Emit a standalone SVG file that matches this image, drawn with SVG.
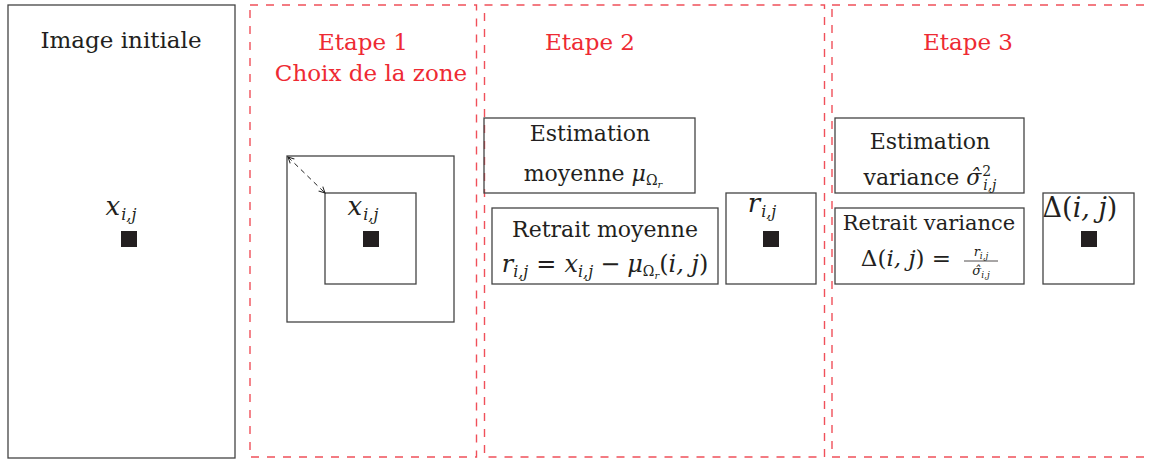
<svg xmlns="http://www.w3.org/2000/svg" width="1152" height="460" viewBox="0 0 1152 460" font-family="'DejaVu Serif', 'Liberation Serif', serif">
<style>
.bg{fill:#fff}
.box{fill:none;stroke:#444;stroke-width:1.3}
.stage{fill:none;stroke:#f0505a;stroke-width:1.4;stroke-dasharray:8 8}
.t{font-family:"DejaVu Serif","Liberation Serif",serif;font-size:22px;fill:#231f20;text-anchor:middle}
.r{fill:#ee2a33;font-size:23px}
.m{font-style:italic}
.s{font-size:14px}
.sb{font-size:16px}
.ss{font-size:10px}
.px{fill:#231f20}
.conn{fill:none;stroke:#222;stroke-width:1;stroke-dasharray:5 4}
</style>
<defs>
<marker id="ah" markerWidth="8" markerHeight="8" refX="7" refY="4" orient="auto-start-reverse" markerUnits="userSpaceOnUse">
<path d="M1,1 L7,4 L1,7" fill="none" stroke="#222" stroke-width="1"/>
</marker>
</defs>
<rect class="bg" x="0" y="0" width="1152" height="460"/>

<g id="image-initiale">
<rect class="box" x="8" y="5" width="227" height="453"/>
<text class="t" x="121" y="48" style="font-size:23px">Image initiale</text>
<text class="t" x="121" y="215" style="font-size:26px"><tspan class="m">x</tspan><tspan class="sb m" dx="1" dy="5">i,j</tspan></text>
<rect class="px" x="121" y="231" width="16" height="16"/>
</g>

<g id="etape1">
<rect class="stage" x="250" y="5" width="226.5" height="452"/>
<text class="t r" x="363" y="50">Etape 1</text>
<text class="t r" x="371" y="81">Choix de la zone</text>
<rect class="box" x="287" y="156" width="167" height="166"/>
<rect class="box" x="325" y="193" width="91" height="91"/>
<text class="t" x="363" y="215" style="font-size:26px"><tspan class="m">x</tspan><tspan class="sb m" dx="1" dy="5">i,j</tspan></text>
<rect class="px" x="363" y="231" width="16" height="16"/>
</g>

<g id="etape2">
<rect class="stage" x="484.5" y="5" width="340" height="452"/>
<text class="t r" x="590" y="50">Etape 2</text>
<g id="estimation-moyenne">
<rect class="box" x="484" y="118" width="211" height="75"/>
<text class="t" x="590" y="141">Estimation</text>
<text class="t" x="593" y="181">moyenne <tspan class="m">μ</tspan><tspan class="s" dy="4">Ω</tspan><tspan class="ss m" dy="3">r</tspan></text>
</g>
<g id="retrait-moyenne">
<rect class="box" x="492" y="208" width="226" height="76"/>
<text class="t" x="605" y="237">Retrait moyenne</text>
<text class="t" x="605" y="272" style="font-size:24px"><tspan class="m">r</tspan><tspan class="sb m" dy="5">i,j</tspan><tspan dy="-5" dx="8">=</tspan><tspan class="m" dx="8">x</tspan><tspan class="sb m" dy="5">i,j</tspan><tspan dy="-5" dx="7">−</tspan><tspan class="m" dx="7">μ</tspan><tspan class="s" dy="4">Ω</tspan><tspan class="ss m" dy="3">r</tspan><tspan dy="-7">(</tspan><tspan class="m">i, j</tspan><tspan>)</tspan></text>
</g>
<g id="residu">
<rect class="box" x="726" y="193" width="90" height="91"/>
<text class="t" x="762" y="212" style="font-size:26px"><tspan class="m">r</tspan><tspan class="sb m" dx="1" dy="5">i,j</tspan></text>
<rect class="px" x="763" y="231" width="16" height="16"/>
</g>
</g>

<g id="etape3">
<rect class="stage" x="832" y="5" width="330" height="452"/>
<text class="t r" x="968" y="50">Etape 3</text>
<g id="estimation-variance">
<rect class="box" x="835" y="118" width="189" height="75"/>
<text class="t" x="930" y="149">Estimation</text>
<text class="t" x="930" y="185">variance <tspan class="m">σ̂</tspan><tspan class="s" dx="1" dy="-9">2</tspan><tspan class="s m" dx="-8" dy="14">i,j</tspan></text>
</g>
<g id="retrait-variance">
<rect class="box" x="835" y="208" width="189" height="76"/>
<text class="t" x="929" y="230" style="font-size:21px">Retrait variance</text>
<text class="t" x="906" y="266" style="font-size:23px">Δ(<tspan class="m">i, j</tspan>) =</text>
<text class="t" x="981" y="256" style="font-size:13px"><tspan class="m">r</tspan><tspan class="m" style="font-size:9px" dy="3">i,j</tspan></text>
<line x1="964" y1="261" x2="998" y2="261" stroke="#231f20" stroke-width="0.8"/>
<text class="t" x="981" y="275" style="font-size:13px"><tspan class="m">σ̂</tspan><tspan class="m" style="font-size:9px" dy="3">i,j</tspan></text>
</g>
<g id="delta">
<rect class="box" x="1043" y="193" width="91" height="91"/>
<text class="t" x="1080" y="217" style="font-size:27px">Δ(<tspan class="m">i, j</tspan>)</text>
<rect class="px" x="1081" y="231" width="16" height="16"/>
</g>
</g>

<g id="connectors">
<line class="conn" x1="288" y1="157" x2="325" y2="193" marker-start="url(#ah)" marker-end="url(#ah)"/>
</g>
</svg>
